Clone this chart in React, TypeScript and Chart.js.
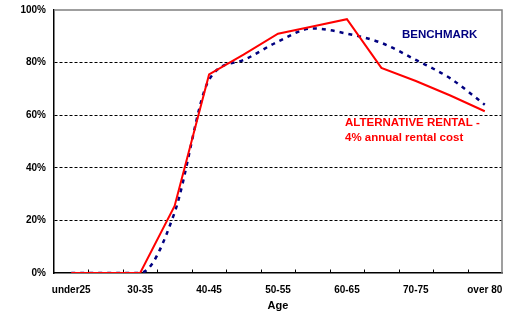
import React, { useEffect, useRef } from 'react';
import { Chart, registerables } from 'chart.js';

Chart.register(...registerables);

const categories = ['under25', '25-30', '30-35', '35-40', '40-45', '45-50', '50-55', '55-60', '60-65', '65-70', '70-75', '75-80', 'over 80'];
const benchmark = [0, 0, 0, 23, 73.5, 81, 88, 93, 91, 87.5, 81, 74, 64];
const alternative = [0, 0, 0, 25.5, 75.5, 83, 91, 93.7, 96.5, 78, 73, 67.5, 61.5];
const yTicks = [0, 20, 40, 60, 80, 100];

const FONT = "'Liberation Sans', Arial, Helvetica, sans-serif";
const NAVY = '#000080';
const RED = '#ff0000';

export default function App() {
  const ref = useRef<HTMLCanvasElement>(null);

  useEffect(() => {
    if (!ref.current) return;

    const decor = {
      id: 'decor',
      beforeDatasetsDraw(chart: any) {
        const { ctx, chartArea: a, scales } = chart;
        ctx.save();
        ctx.strokeStyle = '#808080';
        ctx.lineWidth = 1.5;
        ctx.beginPath();
        ctx.moveTo(a.left, a.top);
        ctx.lineTo(a.right, a.top);
        ctx.lineTo(a.right, a.bottom);
        ctx.stroke();
        ctx.strokeStyle = '#000';
        ctx.lineWidth = 1;
        ctx.beginPath();
        for (let i = 1; i < categories.length; i++) {
          const x = Math.round(scales.x.getPixelForValue(i - 0.5)) + 0.5;
          ctx.moveTo(x, a.bottom);
          ctx.lineTo(x, a.bottom - 3.5);
        }
        ctx.stroke();
        ctx.restore();
      },
      afterDatasetsDraw(chart: any) {
        const { ctx, chartArea: a } = chart;
        ctx.save();
        ctx.textBaseline = 'middle';
        ctx.textAlign = 'left';
        ctx.font = `bold 11.5px ${FONT}`;
        ctx.fillStyle = NAVY;
        ctx.fillText('BENCHMARK', a.left + 348, a.top + 25);
        ctx.fillStyle = RED;
        ctx.fillText('ALTERNATIVE RENTAL -', a.left + 291, a.top + 113);
        ctx.fillText('4% annual rental cost', a.left + 291, a.top + 127.5);
        ctx.restore();
      },
    };

    const chart = new Chart(ref.current, {
      type: 'line',
      data: {
        labels: categories,
        datasets: [
          {
            label: 'ALTERNATIVE RENTAL - 4% annual rental cost',
            data: alternative,
            borderColor: RED,
            backgroundColor: RED,
            borderWidth: 2,
            pointRadius: 0,
            tension: 0,
            fill: false,
          },
          {
            label: 'BENCHMARK',
            data: benchmark,
            borderColor: NAVY,
            backgroundColor: NAVY,
            borderWidth: 2.5,
            borderDash: [4, 5],
            pointRadius: 0,
            cubicInterpolationMode: 'monotone',
            fill: false,
          },
        ],
      },
      options: {
        responsive: false,
        animation: false,
        layout: { padding: { left: 0, top: 10, right: 4, bottom: 0 } },
        plugins: {
          legend: { display: false },
          tooltip: { enabled: false },
        },
        scales: {
          x: {
            offset: true,
            afterFit: (s: any) => { s.height = 43; s.paddingLeft = 0; s.paddingRight = 0; },
            grid: { display: true, drawOnChartArea: false, drawTicks: false },
            border: { display: true, color: '#000', width: 1.5 },
            ticks: {
              autoSkip: false,
              maxRotation: 0,
              padding: 11,
              color: '#000',
              font: { family: FONT, size: 10, weight: 'bold' },
              callback: (_v: any, i: number) => (i % 2 === 0 ? categories[i] : ''),
            },
            title: {
              display: true,
              text: 'Age',
              color: '#000',
              font: { family: FONT, size: 11, weight: 'bold' },
              padding: { top: 0, bottom: 3 },
            },
          },
          y: {
            min: 0,
            max: 100,
            afterFit: (s: any) => { s.width = 54; s.paddingTop = 0; s.paddingBottom = 0; },
            afterBuildTicks: (s: any) => { s.ticks = yTicks.map((v) => ({ value: v })); },
            grid: {
              drawTicks: false,
              color: (c: any) => (c.tick && (c.tick.value === 0 || c.tick.value === 100) ? 'rgba(0,0,0,0)' : '#000'),
              lineWidth: 1,
            },
            border: { display: true, color: '#000', width: 1.5, dash: [3, 2] },
            ticks: {
              padding: 8,
              color: '#000',
              font: { family: FONT, size: 10, weight: 'bold' },
              callback: (v: any) => `${v}%`,
            },
          },
        },
      },
      plugins: [decor],
    } as any);

    return () => chart.destroy();
  }, []);

  return (
    <div style={{ position: 'fixed', left: 0, top: 0, width: 506, height: 316, background: '#fff' }}>
      <canvas ref={ref} width={506} height={316} style={{ display: 'block' }} />
    </div>
  );
}
